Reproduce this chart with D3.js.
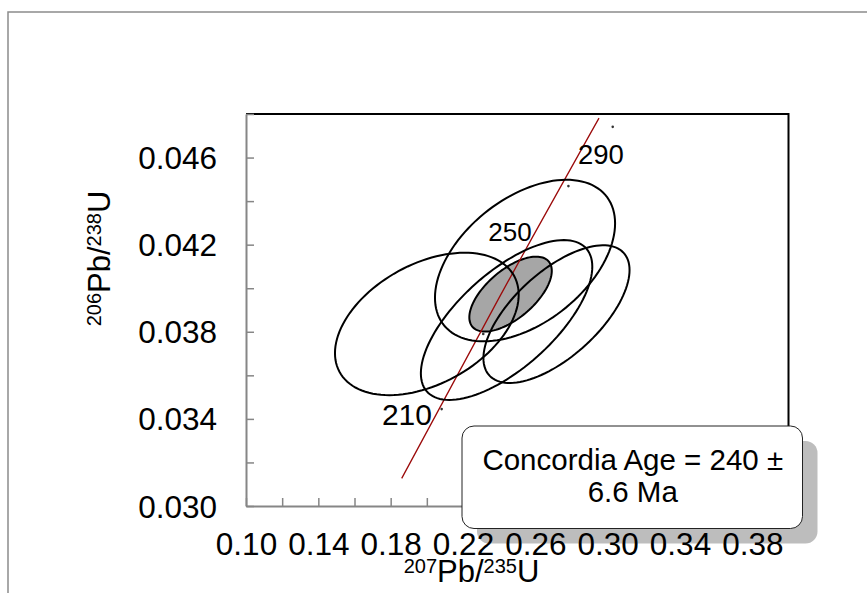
<!DOCTYPE html>
<html>
<head>
<meta charset="utf-8">
<script src="https://cdn.jsdelivr.net/npm/d3@7"></script>
<style>
  body { margin: 0; background: #fff; }
  svg { display: block; font-family: "Liberation Sans", Arial, sans-serif; }
</style>
</head>
<body>
<div id="chart"></div>
<script>
// Axis settings (207Pb/235U vs 206Pb/238U)
const xDomain = [0.10, 0.40];
const yDomain = [0.030, 0.048];
const xMajor = [0.10, 0.14, 0.18, 0.22, 0.26, 0.30, 0.34, 0.38];
const xMinor = d3.range(0, 16).map(i => +(0.10 + i * 0.02).toFixed(2));
const yMajor = [0.030, 0.034, 0.038, 0.042, 0.046];
const yMinor = d3.range(0, 10).map(i => +(0.030 + i * 0.002).toFixed(3));

// Error ellipses: centre, half extent in x and y, correlation
const spotX   = [0.2000, 0.2543, 0.2441, 0.2717];
const spotY   = [0.03836, 0.04127, 0.03854, 0.03881];
const spotDX  = [0.0508, 0.0498, 0.0474, 0.0404];
const spotDY  = [0.00327, 0.00371, 0.00367, 0.00316];
const spotRho = [0.41, 0.46, 0.667, 0.64];

// Concordia age ellipse
const concX = 0.2463, concY = 0.03973, concDX = 0.0228, concDY = 0.00172, concRho = 0.62;

// Concordia curve
const curveX = [0.1861, 0.2400, 0.2952];
const curveY = [0.03127, 0.03957, 0.04781];

// Age markers and labels
const markX = [0.2082, 0.2312, 0.2783, 0.3028];
const markY = [0.03445, 0.03790, 0.04469, 0.04741];
const ageLabels = ["210", "250", "290"];
const ageLabelX = [0.1890, 0.2460, 0.2963];
const ageLabelY = [0.03372, 0.04218, 0.04570];
const ageLabelSize = [30, 26, 27.5];

const legendLines = ["Concordia Age = 240 \u00b1", "6.6 Ma"];

const width = 867, height = 593;
const plot = { left: 246, right: 788.5, top: 114, bottom: 506 };

const svg = d3.select("#chart").append("svg")
  .attr("width", width)
  .attr("height", height);

// chart area border (runs off the right and bottom edge)
svg.append("rect")
  .attr("x", 8).attr("y", 12)
  .attr("width", 900).attr("height", 640)
  .attr("fill", "#fff")
  .attr("stroke", "#8c8c8c")
  .attr("stroke-width", 1.5);

const x = d3.scaleLinear().domain(xDomain).range([plot.left, plot.right]);
const y = d3.scaleLinear().domain(yDomain).range([plot.bottom, plot.top]);

// top and right frame
svg.append("path")
  .attr("d", `M${plot.left},${plot.top}H${plot.right}V${plot.bottom}`)
  .attr("fill", "none")
  .attr("stroke", "#000")
  .attr("stroke-width", 2);

function ellipsePoints(cx, cy, dx, dy, rho) {
  const s = Math.sqrt(1 - rho * rho);
  return d3.range(0, 120).map(i => {
    const t = i / 120 * 2 * Math.PI;
    return [cx + dx * Math.cos(t), cy + dy * (rho * Math.cos(t) + s * Math.sin(t))];
  });
}

const ell = d3.line()
  .x(d => x(d[0]))
  .y(d => y(d[1]))
  .curve(d3.curveLinearClosed);

// concordia age ellipse, filled
svg.append("path")
  .attr("d", ell(ellipsePoints(concX, concY, concDX, concDY, concRho)))
  .attr("fill", "#a6a6a6")
  .attr("stroke", "#000")
  .attr("stroke-width", 2);

// concordia curve
const curvePts = curveX.map((v, i) => [v, curveY[i]]);
svg.append("path")
  .attr("d", d3.line().x(d => x(d[0])).y(d => y(d[1])).curve(d3.curveNatural)(curvePts))
  .attr("fill", "none")
  .attr("stroke", "#9b0a0a")
  .attr("stroke-width", 1.3);

// data-point error ellipses
spotX.forEach((cx, i) => {
  svg.append("path")
    .attr("d", ell(ellipsePoints(cx, spotY[i], spotDX[i], spotDY[i], spotRho[i])))
    .attr("fill", "none")
    .attr("stroke", "#000")
    .attr("stroke-width", 2);
});

// age marks
svg.selectAll(".mark")
  .data(markX)
  .enter()
  .append("circle")
  .attr("class", "mark")
  .attr("cx", d => x(d))
  .attr("cy", (d, i) => y(markY[i]))
  .attr("r", 1.3)
  .attr("fill", "#333");

svg.selectAll(".age")
  .data(ageLabels)
  .enter()
  .append("text")
  .attr("class", "age")
  .attr("x", (d, i) => x(ageLabelX[i]))
  .attr("y", (d, i) => y(ageLabelY[i]))
  .attr("text-anchor", "middle")
  .style("font-size", (d, i) => ageLabelSize[i] + "px")
  .attr("fill", "#000")
  .text(d => d);

// axes: gray lines with inward ticks
const yTicks = svg.append("g")
  .attr("transform", `translate(${plot.left},0)`)
  .call(d3.axisLeft(y).tickValues(yMinor).tickSize(-8).tickSizeOuter(0).tickFormat(""));
const xTicks = svg.append("g")
  .attr("transform", `translate(0,${plot.bottom})`)
  .call(d3.axisBottom(x).tickValues(xMinor).tickSize(-8).tickSizeOuter(0).tickFormat(""));
[yTicks, xTicks].forEach(g => {
  g.select(".domain").attr("stroke", "#868686").attr("stroke-width", 2);
  g.selectAll(".tick line").attr("stroke", "#868686").attr("stroke-width", 1.5);
});

// legend box with shadow
const lg = { x: 462, y: 426, w: 340.5, h: 102.5 };
svg.append("rect")
  .attr("x", lg.x + 15).attr("y", lg.y + 15)
  .attr("width", lg.w).attr("height", lg.h)
  .attr("rx", 12)
  .attr("fill", "#bdbdbd");
svg.append("rect")
  .attr("x", lg.x).attr("y", lg.y)
  .attr("width", lg.w).attr("height", lg.h)
  .attr("rx", 12)
  .attr("fill", "#fff")
  .attr("stroke", "#222")
  .attr("stroke-width", 1);
svg.selectAll(".legend-line")
  .data(legendLines)
  .enter()
  .append("text")
  .attr("class", "legend-line")
  .attr("x", lg.x + lg.w / 2 + 0.5)
  .attr("y", (d, i) => lg.y + 44 + i * 32)
  .attr("text-anchor", "middle")
  .style("font-size", "29.5px")
  .attr("fill", "#000")
  .text(d => d);

// tick labels (drawn above the legend shadow)
const yLab = svg.append("g")
  .attr("transform", `translate(${plot.left},0)`)
  .call(d3.axisLeft(y).tickValues(yMajor).tickSize(0).tickPadding(29).tickFormat(d3.format(".3f")));
const xLab = svg.append("g")
  .attr("transform", `translate(0,${plot.bottom})`)
  .call(d3.axisBottom(x).tickValues(xMajor).tickSize(0).tickPadding(26.5).tickFormat(d3.format(".2f")));
[yLab, xLab].forEach(g => {
  g.select(".domain").remove();
  g.selectAll("text")
    .attr("fill", "#000")
    .style("font-size", "31.5px")
    .style("font-family", "'Liberation Sans', Arial, sans-serif");
});
yLab.selectAll("text").attr("dy", "0.35em");

// axis titles
function isotopeTitle(sel, a, b) {
  sel.append("tspan").style("font-size", "20px").attr("dy", "-0.46em").text(a);
  sel.append("tspan").style("font-size", "31px").attr("dy", "0.3em").text("Pb/");
  sel.append("tspan").style("font-size", "20px").attr("dy", "-0.46em").text(b);
  sel.append("tspan").style("font-size", "31px").attr("dy", "0.3em").text("U");
}
const xt = svg.append("text")
  .attr("x", 471.5).attr("y", 582)
  .attr("text-anchor", "middle")
  .attr("fill", "#000");
isotopeTitle(xt, "207", "235");

const yt = svg.append("text")
  .attr("transform", "translate(110,258.5) rotate(-90)")
  .attr("text-anchor", "middle")
  .attr("fill", "#000");
isotopeTitle(yt, "206", "238");
</script>
</body>
</html>
